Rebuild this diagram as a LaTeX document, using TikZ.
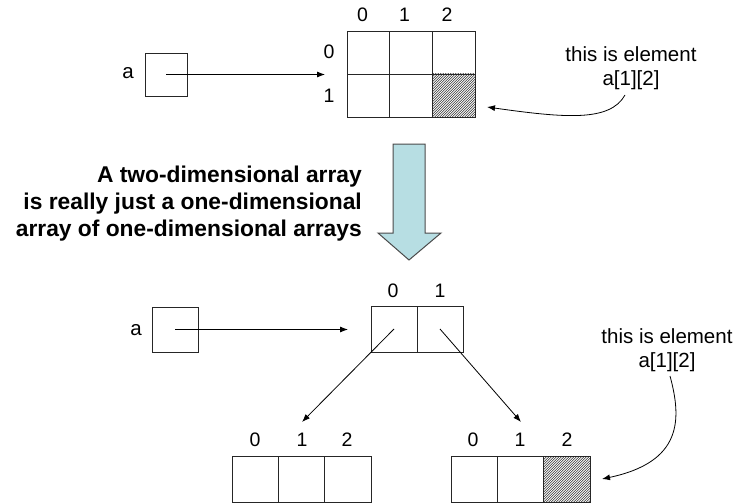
\documentclass[tikz,border=0pt]{standalone}
\usepackage{fontspec}
\setmainfont{Liberation Sans}
\usetikzlibrary{arrows.meta}
\definecolor{arrowfill}{HTML}{B7DEE3}
\definecolor{arrowedge}{HTML}{4A4A4A}

\begin{document}
\begin{tikzpicture}[x=1pt,y=-1pt,
  lbl/.style={font=\fontsize{20.5}{24}\selectfont, anchor=base, inner sep=0pt},
  idx/.style={font=\fontsize{19.5}{23}\selectfont, anchor=base, inner sep=0pt},
  boxline/.style={draw=black!85, line width=0.9pt, inner sep=0pt},
  cellA/.style={boxline, minimum width=42.7pt, minimum height=43pt},
  cellB/.style={boxline, minimum width=46.3pt, minimum height=46pt},
  hatched/.style={path picture={
      \foreach \k in {-60,-57.5,...,60}
        \draw[black!85, line width=0.55pt]
          ([xshift=\k pt]path picture bounding box.south west) -- ++(70pt,70pt);}},
  ptr/.style={-{Latex[length=8pt,width=6pt]}, line width=0.8pt},
  bold/.style={font=\bfseries\fontsize{22.8}{28}\selectfont, anchor=base east, inner sep=0pt}]

\useasboundingbox (0,0) rectangle (736,503);

% ---------- two-dimensional view ----------
\node[lbl] (atop) at (128,78) {a};
\node[boxline, minimum width=42pt, minimum height=43pt] (vtop) at (166,74.5) {};

\node[cellA] (g00) at (368.3,52.5) {};
\node[cellA] (g01) at (411,52.5) {};
\node[cellA] (g02) at (453.7,52.5) {};
\node[cellA] (g10) at (368.3,95.5) {};
\node[cellA] (g11) at (411,95.5) {};
\node[cellA, hatched] (g12) at (453.7,95.5) {};

\node[idx] (c0) at (362.5,22) {0};
\node[idx] (c1) at (404.5,22) {1};
\node[idx] (c2) at (447,22) {2};
\node[idx] (r0) at (329,59) {0};
\node[idx] (r1) at (329,102) {1};

\coordinate (ttip) at (325,74.5);
\draw[ptr] (vtop.center) -- (ttip);

\node[lbl] (note1a) at (631,62) {this is element};
\node[lbl] (note1b) at (631,85) {a[1][2]};
\coordinate (n1tip) at (487,107);
\draw[ptr] (625,95) .. controls (610,122) and (565,118) .. (n1tip);

% ---------- the big down arrow and caption ----------
\draw[fill=arrowfill, draw=arrowedge, line width=1pt]
  (393,144) -- (425,144) -- (425,233) -- (441,233) -- (409,260)
  -- (378,233) -- (393,233) -- cycle;
\node[bold] (cap1) at (362,182) {A two-dimensional array};
\node[bold] (cap2) at (362,209) {is really just a one-dimensional};
\node[bold] (cap3) at (362,236) {array of one-dimensional arrays};

% ---------- array of arrays view ----------
\node[lbl] (abot) at (136,335) {a};
\node[boxline, minimum width=46pt, minimum height=45pt] (vbot) at (175,329.5) {};

\node[cellB, minimum width=46pt] (p0) at (394,329) {};
\node[cellB, minimum width=46pt] (p1) at (440,329) {};
\node[idx] (p0l) at (393,297) {0};
\node[idx] (p1l) at (440,297) {1};

\coordinate (btip) at (348,329.5);
\draw[ptr] (vbot.center) -- (btip);

\node[cellB] (l0) at (255.2,479) {};
\node[cellB] (l1) at (301.5,479) {};
\node[cellB] (l2) at (347.8,479) {};
\node[idx] (l0l) at (255,446) {0};
\node[idx] (l1l) at (302,446) {1};
\node[idx] (l2l) at (347,446) {2};

\node[cellB] (m0) at (474.2,479) {};
\node[cellB] (m1) at (520.5,479) {};
\node[cellB, hatched] (m2) at (566.8,479) {};
\node[idx] (m0l) at (473,446) {0};
\node[idx] (m1l) at (520,446) {1};
\node[idx] (m2l) at (567,446) {2};

\coordinate (ltip) at (302,422);
\coordinate (rtip) at (521,422);
\draw[ptr] (p0.center) -- (ltip);
\draw[ptr] (p1.center) -- (rtip);

\node[lbl] (note2a) at (667,343) {this is element};
\node[lbl] (note2b) at (667,367) {a[1][2]};
\coordinate (n2tip) at (602,479);
\draw[ptr] (670,376) .. controls (682,420) and (682,462) .. (n2tip);

\end{tikzpicture}
\end{document}
